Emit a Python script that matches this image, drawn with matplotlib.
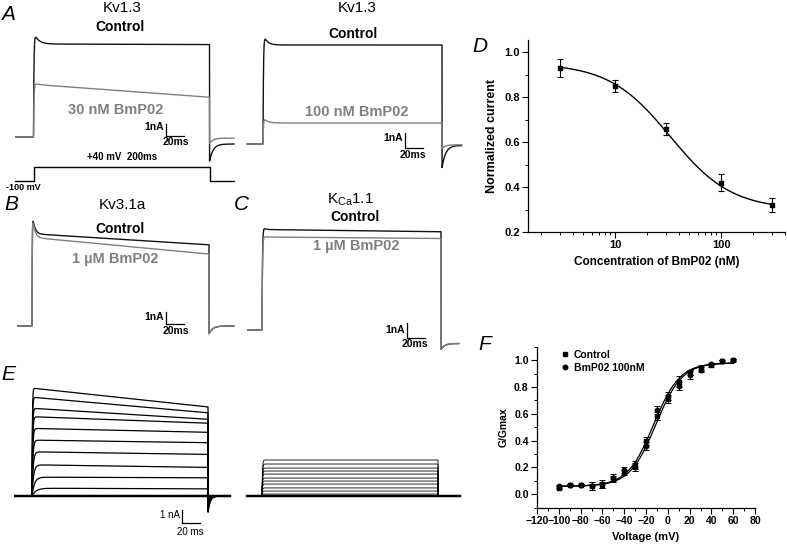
import numpy as np
import matplotlib
matplotlib.use("Agg")
import matplotlib.pyplot as plt
from matplotlib.ticker import FixedLocator, NullFormatter, MultipleLocator
from matplotlib.lines import Line2D

plt.rcParams['font.family'] = ['Liberation Sans', 'DejaVu Sans']
plt.rcParams['mathtext.fontset'] = 'custom'
plt.rcParams['mathtext.rm'] = 'Liberation Sans'

# ---- D: dose response of Kv1.3 to BmP02
conc = [3, 10, 30, 100, 300]
norm_current = [0.93, 0.85, 0.66, 0.42, 0.32]
norm_err = [0.04, 0.027, 0.027, 0.036, 0.03]
hill_top, hill_bottom, ic50, hill_n = 0.95, 0.30, 33.0, 1.5

# ---- F: G-V curves
voltage = [-100, -90, -80, -70, -60, -50, -40, -30, -20, -10, 0, 10, 20, 30, 40, 50, 60]
g_control = [0.05, 0.07, 0.07, 0.06, 0.07, 0.12, 0.16, 0.22, 0.40, 0.58, 0.71, 0.84, 0.91, 0.94, 0.96, 0.99, 1.00]
g_control_err = [0.01, 0.01, 0.01, 0.03, 0.02, 0.03, 0.02, 0.03, 0.03, 0.03, 0.03, 0.04, 0.02, 0.02, 0.01, 0.01, 0.01]
g_bmp02 = [0.06, 0.07, 0.07, 0.06, 0.08, 0.12, 0.18, 0.20, 0.36, 0.63, 0.73, 0.81, 0.89, 0.93, 0.97, 0.99, 1.00]
g_bmp02_err = [0.01, 0.01, 0.01, 0.03, 0.03, 0.02, 0.02, 0.03, 0.03, 0.03, 0.03, 0.03, 0.03, 0.02, 0.01, 0.01, 0.01]
boltz_bottom, boltz_top, boltz_k = 0.06, 0.98, 12.0
v_half_control, v_half_bmp02 = -13.0, -11.0

# ---- current traces (nA): peak, steady at start, steady at end of 200 ms pulse, tail
kv13_ctrl_a = dict(peak=9.0, start=7.95, end=7.9, tail=-2.1, tail_ss=-0.6, tau_inact=5.0)
kv13_30nm = dict(peak=4.6, start=4.5, end=3.4, tail=-0.55, tail_ss=-0.1, tau_inact=5.0)
kv13_ctrl_b = dict(peak=7.4, start=6.6, end=6.6, tail=-1.6, tail_ss=-0.1, tau_inact=4.0)
kv13_100nm = dict(peak=1.8, start=1.4, end=1.4, tail=-0.3, tail_ss=-0.05, tau_inact=4.0)
kv31_ctrl = dict(peak=9.4, start=7.5, end=6.6, tail=-0.65, tau_inact=2.5, tau_act=0.3)
kv31_1um = dict(peak=9.4, start=7.2, end=5.85, tail=-0.65, tau_inact=2.5, tau_act=0.3)
kca_ctrl = dict(peak=7.0, start=6.7, end=6.55, tail=-1.3, tail_ss=-0.9, tau_inact=2.0)
kca_1um = dict(peak=6.3, start=6.2, end=6.1, tail=-1.3, tail_ss=-0.9, tau_inact=2.0)

# E: family of Kv1.3 currents, control and with BmP02
e_start = [8.3, 7.6, 6.75, 6.1, 5.2, 4.3, 3.4, 2.4, 1.45, 0.6]
e_end = [6.85, 6.4, 5.9, 5.6, 4.9, 4.1, 3.2, 2.2, 1.4, 0.55]
e_tail = [-1.3, -1.15, -1.0, -0.9, -0.8, -0.65, -0.5, -0.35, -0.2, -0.08]
e_tau = [0.4, 0.5, 0.6, 0.7, 0.8, 1.0, 1.3, 1.8, 2.8, 4.5]
e2_level = [2.77, 2.46, 2.15, 1.92, 1.69, 1.38, 1.15, 0.92, 0.62, 0.38, 0.15]

protocol_t = [-25, 0, 0, 200, 200, 230]
protocol_v = [-100, -100, 40, 40, -100, -100]

W, H = 787, 544
fig = plt.figure(figsize=(W / 100, H / 100), dpi=100)
GREY = '#808080'


def ptext(x, y, s, ha='center', **kw):
    fig.text(x / W, 1 - y / H, s, ha=ha, va='center', **kw)


def trace_axes(box, origin, scale):
    # box in pixels (x0, y0, x1, y1), origin = pixel of t=0 / I=0, scale = px per ms, px per unit
    x0, y0, x1, y1 = box
    ox, oy = origin
    sx, sy = scale
    ax = fig.add_axes([x0 / W, 1 - y1 / H, (x1 - x0) / W, (y1 - y0) / H])
    ax.set_xlim((x0 - ox) / sx, (x1 - ox) / sx)
    ax.set_ylim((oy - y1) / sy, (oy - y0) / sy)
    ax.axis('off')
    return ax


def sweep(t, peak, start, end, tail=0.0, tail_ss=0.0, tau_act=0.5, tau_inact=3.0, tau_tail=4.0, dur=200.0):
    i = np.zeros_like(t)
    on = (t >= 0) & (t <= dur)
    s = t[on]
    i[on] = (start + (end - start) * s / dur + (peak - start) * np.exp(-s / tau_inact)) * (1 - np.exp(-s / tau_act))
    off = t > dur
    i[off] = tail_ss + (tail - tail_ss) * np.exp(-(t[off] - dur) / tau_tail)
    return i


def scale_bar(ax, t, i, lw=0.9):
    ax.plot([t, t], [i, i + 1], color='k', lw=lw)
    ax.plot([t, t + 20], [i, i], color='k', lw=lw)


t = np.arange(-220, 2300) / 10.0

# ---------------- A (30 nM)
ax = trace_axes((15, 25, 235, 175), (33.5, 137), (0.88, 11.7))
tt = t[(t >= -20) & (t <= 228)]
ax.plot(tt, sweep(tt, **kv13_ctrl_a), color='#111111', lw=1.0)
ax.plot(tt, sweep(tt, **kv13_30nm), color=GREY, lw=1.0)
scale_bar(ax, 150.6, 0.09)
ptext(8, 15, 'A', fontsize=15, style='italic')
ptext(122, 8, 'Kv1.3', fontsize=11)
ptext(120, 27, 'Control', fontsize=10, weight='bold')
ptext(116, 110, '30 nM BmP02', fontsize=10.5, weight='bold', color=GREY)
ptext(164, 127, '1nA', ha='right', fontsize=7.5, weight='bold')
ptext(176, 142, '20ms', fontsize=7.5, weight='bold')

# voltage protocol
axv = trace_axes((15, 160, 235, 186), (33.5, 171), (0.88, 0.1))
axv.plot(protocol_t, protocol_v, color='k', lw=1.0)
ptext(23, 187, '-100 mV', fontsize=6.5, weight='bold')
ptext(122, 157, '+40 mV  200ms', fontsize=7, weight='bold')

# ---------------- A (100 nM)
ax = trace_axes((245, 25, 465, 175), (263, 144), (0.895, 15))
tt = t[(t >= -18) & (t <= 222)]
ax.plot(tt, sweep(tt, **kv13_ctrl_b), color='#111111', lw=1.0)
ax.plot(tt, sweep(tt, **kv13_100nm), color=GREY, lw=1.0)
scale_bar(ax, 158.7, -0.27)
ptext(357, 8, 'Kv1.3', fontsize=11)
ptext(353, 34, 'Control', fontsize=10, weight='bold')
ptext(357, 112, '100 nM BmP02', fontsize=10.5, weight='bold', color=GREY)
ptext(403, 138, '1nA', ha='right', fontsize=7.5, weight='bold')
ptext(413, 155, '20ms', fontsize=7.5, weight='bold')

# ---------------- B
ax = trace_axes((15, 200, 235, 345), (32, 326), (0.885, 12.3))
tt = t[(t >= -16) & (t <= 228)]
ax.plot(tt, sweep(tt, **kv31_ctrl), color='#111111', lw=1.0)
ax.plot(tt, sweep(tt, **kv31_1um), color=GREY, lw=1.0)
scale_bar(ax, 151.4, 0.16)
ptext(11, 205, 'B', fontsize=15, style='italic')
ptext(122, 205, 'Kv3.1a', fontsize=11)
ptext(120, 229, 'Control', fontsize=10, weight='bold')
ptext(115, 259, '1 µM BmP02', fontsize=10.5, weight='bold', color=GREY)
ptext(164, 317, '1nA', ha='right', fontsize=7.5, weight='bold')
ptext(176, 331, '20ms', fontsize=7.5, weight='bold')

# ---------------- C
ax = trace_axes((240, 215, 475, 360), (262, 330), (0.895, 15))
tt = t[(t >= -16) & (t <= 220)]
ax.plot(tt, sweep(tt, **kca_ctrl), color='#111111', lw=1.0)
ax.plot(tt, sweep(tt, **kca_1um), color=GREY, lw=1.0)
scale_bar(ax, 162, -0.53)
ptext(241, 205, 'C', fontsize=15, style='italic')
ptext(350, 200, r'K$_{\rm Ca}$1.1', fontsize=11)
ptext(355, 217, 'Control', fontsize=10, weight='bold')
ptext(356, 246, '1 µM BmP02', fontsize=10.5, weight='bold', color=GREY)
ptext(405, 330, '1nA', ha='right', fontsize=7.5, weight='bold')
ptext(415, 344, '20ms', fontsize=7.5, weight='bold')

# ---------------- E left
ax = trace_axes((12, 380, 235, 525), (32, 496), (0.88, 13))
tt = t[(t >= -19) & (t <= 225)]
ax.plot(tt, np.zeros_like(tt), color='k', lw=1.8)
for s0, s1, tl, ta in zip(e_start, e_end, e_tail, e_tau):
    ax.plot(tt, sweep(tt, s0, s0, s1, tail=tl, tau_act=ta, tau_tail=2.5), color='k', lw=0.9)
scale_bar(ax, 170.5, -2.08)
ptext(8, 375, 'E', fontsize=15, style='italic')
ptext(180, 515, '1 nA', ha='right', fontsize=7)
ptext(190, 532, '20 ms', fontsize=7)

# ---------------- E right
ax = trace_axes((245, 440, 465, 505), (262, 496), (0.88, 13))
tt = t[(t >= -17) & (t <= 225)]
ax.plot(tt, np.zeros_like(tt), color='k', lw=1.8)
for lv in e2_level:
    ax.plot(tt, sweep(tt, lv, lv, lv, tau_act=0.5), color='k', lw=0.6)

# ---------------- D
axd = fig.add_axes([528 / W, (H - 232) / H, (785 - 528) / W, (232 - 40) / H])
axd.set_xscale('log')
axd.set_xlim(1.5, 400)
axd.set_ylim(0.2, 1.054)
cfit = np.logspace(np.log10(3), np.log10(300), 200)
axd.plot(cfit, hill_bottom + (hill_top - hill_bottom) / (1 + (cfit / ic50) ** hill_n), color='k', lw=1.0)
axd.errorbar(conc, norm_current, yerr=norm_err, fmt='s', ms=3.5, color='k',
             capsize=2.5, elinewidth=0.8, capthick=0.8)
axd.xaxis.set_major_locator(FixedLocator([10, 100]))
axd.set_xticklabels(['10', '100'])
axd.xaxis.set_minor_locator(FixedLocator([2, 3, 4, 5, 6, 7, 8, 9, 20, 30, 40, 50, 60, 70, 80, 90, 200, 300, 400]))
axd.xaxis.set_minor_formatter(NullFormatter())
axd.set_yticks([0.2, 0.4, 0.6, 0.8, 1.0])
axd.set_yticklabels(['0.2', '0.4', '0.6', '0.8', '1.0'])
axd.yaxis.set_minor_locator(MultipleLocator(0.1))
axd.set_ylabel('Normalized current', fontsize=9, weight='bold')
axd.set_xlabel('Concentration of BmP02 (nM)', fontsize=8.5, weight='bold')
ptext(480, 47, 'D', fontsize=15, style='italic')

# ---------------- F
axf = fig.add_axes([537 / W, (H - 507.7) / H, 218 / W, 161 / H])
axf.set_xlim(-120, 80)
axf.set_ylim(-0.1, 1.1)
vfit = np.linspace(-100, 60, 200)
for vh in (v_half_control, v_half_bmp02):
    axf.plot(vfit, boltz_bottom + (boltz_top - boltz_bottom) / (1 + np.exp((vh - vfit) / boltz_k)),
             color='k', lw=0.9)
axf.errorbar(voltage, g_control, yerr=g_control_err, fmt='s', ms=3.2, color='k',
             capsize=2, elinewidth=0.7, capthick=0.7)
axf.errorbar(voltage, g_bmp02, yerr=g_bmp02_err, fmt='o', ms=3.2, color='k',
             capsize=2, elinewidth=0.7, capthick=0.7)
axf.set_xticks(range(-120, 81, 20))
axf.xaxis.set_minor_locator(MultipleLocator(10))
axf.set_yticks([0.0, 0.2, 0.4, 0.6, 0.8, 1.0])
axf.set_yticklabels(['0.0', '0.2', '0.4', '0.6', '0.8', '1.0'])
axf.yaxis.set_minor_locator(MultipleLocator(0.1))
axf.set_ylabel('G/Gmax', fontsize=7.5, weight='bold')
axf.set_xlabel('Voltage (mV)', fontsize=8, weight='bold')
handles = [Line2D([], [], ls='none', marker='s', ms=3.2, color='k'),
           Line2D([], [], ls='none', marker='o', ms=3.2, color='k')]
leg = axf.legend(handles, ['Control', 'BmP02 100nM'], loc='upper left', bbox_to_anchor=(0.06, 1.04),
                 frameon=False, handletextpad=0.4, handlelength=1.0, labelspacing=0.3,
                 prop={'size': 7.5, 'weight': 'bold'})
ptext(485, 345, 'F', fontsize=15, style='italic')

for a, fs in ((axd, 8), (axf, 7.5)):
    for sp in ('top', 'right'):
        a.spines[sp].set_visible(False)
    for sp in ('left', 'bottom'):
        a.spines[sp].set_linewidth(0.9)
    a.tick_params(which='major', direction='out', length=4, width=0.8, labelsize=fs, pad=2)
    a.tick_params(which='minor', direction='out', length=2, width=0.7)
    for lbl in a.get_xticklabels() + a.get_yticklabels():
        lbl.set_fontweight('bold')

fig.savefig('out.png', dpi=100)
